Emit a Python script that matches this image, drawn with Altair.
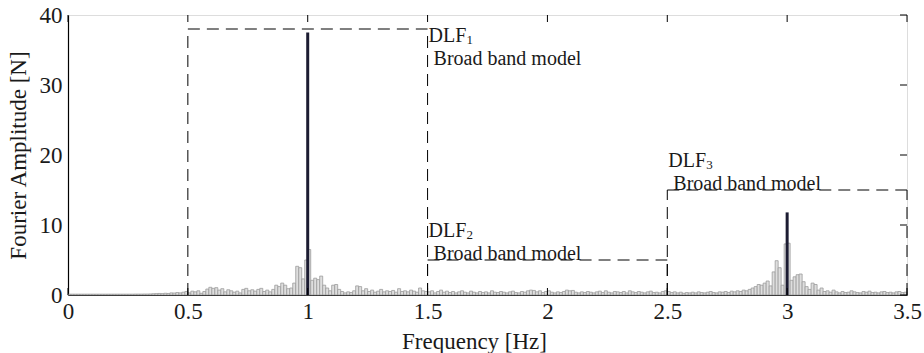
import altair as alt
import pandas as pd

# Spectrum of the measured load: narrow bins (grey) and the two dominant harmonics (dark)
BIN_WIDTH = 0.0125
gray_amp = [
    0.12, 0.12, 0.12, 0.12, 0.12, 0.12, 0.12, 0.12,
    0.12, 0.12, 0.12, 0.12, 0.12, 0.12, 0.12, 0.12,
    0.12, 0.12, 0.12, 0.12, 0.12, 0.12, 0.13, 0.13,
    0.13, 0.14, 0.14, 0.15, 0.18, 0.20, 0.22, 0.20,
    0.25, 0.22, 0.30, 0.28, 0.35, 0.30, 0.40, 0.50,
    0.30, 0.55, 0.45, 0.60, 0.25, 0.50, 0.85, 1.10,
    0.95, 1.05, 0.70, 0.90, 0.45, 0.75, 0.60, 0.40,
    0.55, 0.30, 0.80, 0.95, 0.60, 0.75, 0.55, 0.80,
    0.95, 0.50, 0.70, 0.45, 0.80, 1.40, 1.20, 1.70,
    1.40, 0.90, 1.00, 1.70, 4.10, 3.90, 2.30, 5.00,
    6.50, 2.10, 2.40, 2.20, 2.70, 1.40, 1.00, 0.60,
    1.40, 1.50, 0.80, 0.50, 0.30, 0.45, 0.35, 0.60,
    1.30, 1.20, 0.60, 0.90, 0.50, 0.70, 0.40, 0.55,
    0.80, 0.45, 0.60, 0.50, 0.65, 0.40, 0.90, 0.50,
    0.60, 0.45, 0.70, 0.55, 0.40, 1.00, 0.60, 0.50,
    0.45, 0.60, 0.30, 0.50, 0.70, 0.40, 0.55, 0.35,
    0.50, 0.30, 0.45, 0.60, 0.40, 0.30, 0.55, 0.40,
    0.30, 0.50, 0.35, 0.45, 0.30, 0.60, 0.40, 0.35,
    0.50, 0.40, 0.30, 0.45, 0.55, 0.35, 0.30, 0.50,
    0.40, 0.60, 0.70, 0.65, 0.45, 0.60, 0.35, 0.50,
    0.60, 0.40, 0.30, 0.45, 0.35, 0.50, 0.70, 0.60,
    0.65, 0.40, 0.30, 0.45, 0.35, 0.50, 0.40, 0.30,
    0.45, 0.55, 0.35, 0.60, 0.40, 0.30, 0.50, 0.45,
    0.35, 0.50, 0.30, 0.60, 0.45, 0.35, 0.50, 0.40,
    0.30, 0.45, 0.55, 0.35, 0.40, 0.30, 0.50, 0.60,
    0.50, 0.35, 0.45, 0.30, 0.40, 0.25, 0.35, 0.30,
    0.40, 0.30, 0.45, 0.35, 0.30, 0.40, 0.50, 0.35,
    0.30, 0.45, 0.40, 0.50, 0.35, 0.55, 0.45, 0.60,
    0.50, 0.70, 0.60, 0.80, 1.00, 1.20, 1.50, 1.40,
    1.70, 2.00, 1.30, 3.30, 4.90, 3.90, 1.40, 7.30,
    7.40, 2.10, 2.60, 2.90, 3.00, 1.90, 1.20, 0.80,
    1.70, 1.50, 0.70, 1.00, 0.50, 0.60, 0.40, 0.70,
    0.45, 0.30, 0.50, 0.35, 0.40, 0.60, 0.45, 0.35,
    0.30, 0.50, 0.40, 0.55, 0.35, 0.40, 0.30, 0.45,
    0.50, 0.35, 0.40, 0.30, 0.45, 0.50, 0.35, 0.40,
]
peak_freq = [1.0, 3.0]
peak_amp = [37.5, 11.8]

# Broad band model of each dynamic load factor: band limits and level [N]
band_name = ["1", "2", "3"]
band_lo = [0.5, 1.5, 2.5]
band_hi = [1.5, 2.5, 3.5]
band_level = [38.0, 5.0, 15.0]

x_ticks = [0, 0.5, 1, 1.5, 2, 2.5, 3, 3.5]
y_ticks = [0, 10, 20, 30, 40]

# Label anchors (frequency of the left edge, level it refers to) and pixel offsets
label_x = [1.5, 1.5, 2.5]
name_dy = [13, -23, -23]
model_dy = [36, 0, 0]

W, H = 839, 280
FONT = "'Liberation Serif', 'Times New Roman', serif"
INK = "#1a1a1a"
TICK = 7

spec = pd.DataFrame({
    "f": [i * BIN_WIDTH for i in range(len(gray_amp))],
    "f2": [(i + 1) * BIN_WIDTH for i in range(len(gray_amp))],
    "amp": gray_amp,
})
peaks = pd.DataFrame({"f": peak_freq, "amp": peak_amp})

seg_rows = []
for lo, hi, lev in zip(band_lo, band_hi, band_level):
    seg_rows.append({"x": lo, "x2": lo, "y": 0.0, "y2": lev})
    seg_rows.append({"x": lo, "x2": hi, "y": lev, "y2": lev})
    seg_rows.append({"x": hi, "x2": hi, "y": 0.0, "y2": lev})
segs = pd.DataFrame(seg_rows)

labels = pd.DataFrame({"x": label_x, "lev": band_level, "sub": band_name})

xs = alt.Scale(domain=[0, 3.5], nice=False, zero=False)
ys = alt.Scale(domain=[0, 40], nice=False)

x_axis = alt.Axis(
    values=x_ticks, format="~g", ticks=False, grid=False,
    labelFont=FONT, labelFontSize=23, labelColor=INK, labelPadding=5,
    labelFlush=False,
    title="Frequency [Hz]", titleFont=FONT, titleFontSize=23, titleFontWeight="normal",
    titleColor=INK, titleX=406, titleY=46, titleAlign="center", titleBaseline="middle",
    domainColor="black", domainWidth=1.2,
)
y_axis = alt.Axis(
    values=y_ticks, ticks=False, grid=False,
    labelFont=FONT, labelFontSize=23, labelColor=INK, labelPadding=6,
    labelFlush=False,
    title="Fourier Amplitude [N]", titleFont=FONT, titleFontSize=23,
    titleFontWeight="normal", titleColor=INK, titleX=-50, titleY=H / 2,
    titleAngle=270, titleAlign="center", titleBaseline="middle",
    domainColor="black", domainWidth=1.2,
)

bars = alt.Chart(spec).mark_rect(
    fill="#dedede", stroke="#9c9c9c", strokeWidth=0.8
).encode(
    x=alt.X("f:Q", scale=xs, axis=x_axis),
    x2="f2:Q",
    y=alt.Y("amp:Q", scale=ys, axis=y_axis),
    y2=alt.datum(0),
)

harmonics = alt.Chart(peaks).mark_rule(color="#1c1c32", strokeWidth=3).encode(
    x=alt.X("f:Q", scale=xs),
    y=alt.Y("amp:Q", scale=ys),
    y2=alt.datum(0),
)

bands = alt.Chart(segs).mark_rule(
    color="black", strokeWidth=1, strokeDash=[12, 7]
).encode(
    x=alt.X("x:Q", scale=xs), x2="x2:Q",
    y=alt.Y("y:Q", scale=ys), y2="y2:Q",
)

text_layers = []
for i in range(len(label_x)):
    row = labels.iloc[[i]]
    text_layers.append(
        alt.Chart(row).mark_text(
            text="DLF", font=FONT, fontSize=20, color=INK, align="left",
            baseline="alphabetic", dx=1, dy=name_dy[i],
        ).encode(x=alt.X("x:Q", scale=xs), y=alt.Y("lev:Q", scale=ys))
    )
    text_layers.append(
        alt.Chart(row).mark_text(
            font=FONT, fontSize=13, color=INK, align="left",
            baseline="alphabetic", dx=39, dy=name_dy[i] + 2,
        ).encode(x=alt.X("x:Q", scale=xs), y=alt.Y("lev:Q", scale=ys), text="sub:N")
    )
    text_layers.append(
        alt.Chart(row).mark_text(
            text="Broad band model", font=FONT, fontSize=20, color=INK,
            align="left", baseline="alphabetic", dx=6, dy=model_dy[i],
        ).encode(x=alt.X("x:Q", scale=xs), y=alt.Y("lev:Q", scale=ys))
    )

# Inward tick marks on the bottom, top and right edges of the box
xt = pd.DataFrame({"v": x_ticks})
yt = pd.DataFrame({"v": y_ticks})
ticks_bottom = alt.Chart(xt).mark_rule(color="black", strokeWidth=1).encode(
    x=alt.X("v:Q", scale=xs), y=alt.value(H - TICK), y2=alt.value(H))
ticks_top = alt.Chart(xt).mark_rule(color="black", strokeWidth=1).encode(
    x=alt.X("v:Q", scale=xs), y=alt.value(0), y2=alt.value(TICK))
ticks_right = alt.Chart(yt).mark_rule(color="black", strokeWidth=1).encode(
    y=alt.Y("v:Q", scale=ys), x=alt.value(W - TICK), x2=alt.value(W))

chart = alt.layer(
    bars, harmonics, bands, ticks_bottom, ticks_top, ticks_right, *text_layers
).properties(
    width=W, height=H,
    padding={"left": 68, "top": 15, "right": 17, "bottom": 58},
    autosize=alt.AutoSizeParams(type="none"),
).configure_view(
    stroke="black", strokeWidth=1.2
).configure(background="white")

chart.save("out.html", embed_options={"renderer": "svg", "actions": False})
